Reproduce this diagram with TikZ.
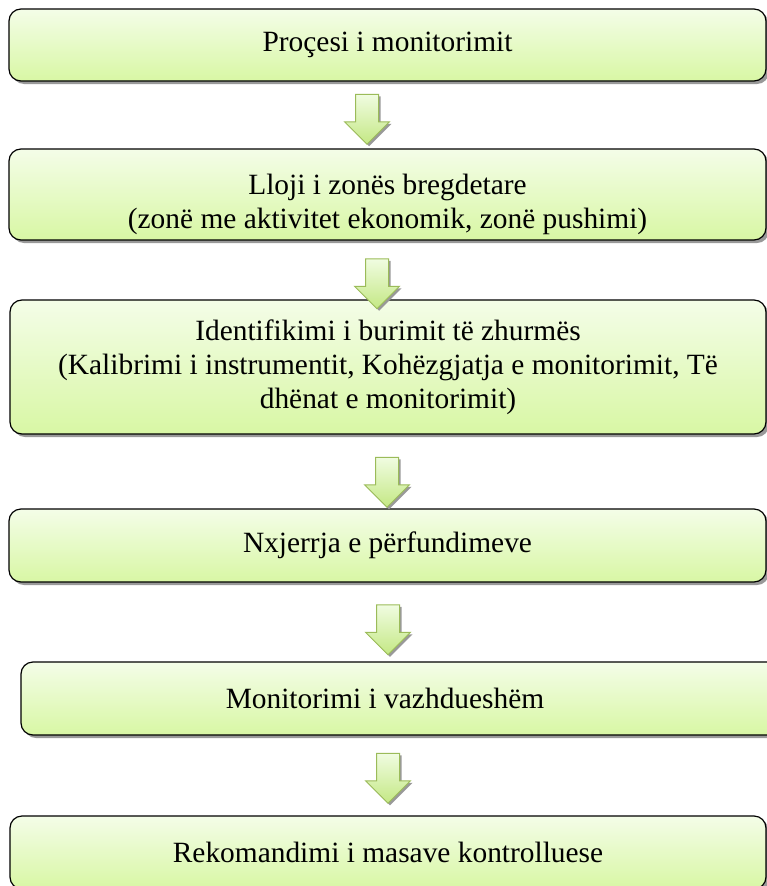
\documentclass[tikz,border=0pt]{standalone}
\usepackage{fontspec}
\setmainfont{Liberation Serif}
\usetikzlibrary{shapes.arrows,shadows}

\definecolor{boxtop}{RGB}{244,253,232}
\definecolor{boxbot}{RGB}{216,247,164}
\definecolor{arrtop}{RGB}{240,252,225}
\definecolor{arrbot}{RGB}{196,232,132}
\definecolor{arrline}{RGB}{155,187,89}

\tikzset{
	stepbox/.style={draw=black,line width=1.2pt,rounded corners=12pt,top color=boxtop,bottom color=boxbot,
		drop shadow={shadow xshift=3pt,shadow yshift=-3pt,fill=black!40,opacity=1},
		minimum width=757pt,align=center,inner sep=0pt,font=\fontsize{29.4}{34}\selectfont},
	downarrow/.style={single arrow,shape border rotate=270,draw=arrline,line width=1pt,
		top color=arrtop,bottom color=arrbot,minimum height=50pt,
		single arrow head extend=11pt,single arrow head indent=0pt,inner sep=11pt,
		drop shadow={shadow xshift=2pt,shadow yshift=-2pt,fill=black!40,opacity=1}}
}

\begin{document}
\begin{tikzpicture}[x=1pt,y=-1pt]
		\useasboundingbox (0,0) rectangle (767,886);
		\clip (0,0) rectangle (767,886);
		% boxes
		\node[stepbox,minimum height=72pt] (proc) at (387.5,45) {Proçesi i monitorimit};
		\node[stepbox,minimum height=91pt] (zona) at (387.5,194.5) {\rule{0pt}{40pt}Lloji i zonës bregdetare\\(zonë me aktivitet ekonomik, zonë pushimi)};
		\node[stepbox,minimum height=134pt,minimum width=756pt] (burim) at (388,367) {Identifikimi i burimit të zhurmës\\(Kalibrimi i instrumentit, Kohëzgjatja e monitorimit, Të\\dhënat e monitorimit)};
		\node[stepbox,minimum height=73pt] (perf) at (387.5,545.5) {Nxjerrja e përfundimeve};
		\node[stepbox,minimum height=73pt,minimum width=769pt] (vazhd) at (405.5,698.5) {};
		\node[font=\fontsize{29.4}{34}\selectfont] (vazhdtxt) at (vazhd.center-|385,0) {Monitorimi i vazhdueshëm};
		\node[stepbox,minimum height=73pt,minimum width=756pt] (masa) at (388,852.5) {Rekomandimi i masave kontrolluese};
		% arrows between the boxes
		\node[downarrow] (a1) at (367,113.5) {};
		\node[downarrow] (a2) at (377,278) {};
		\node[downarrow] (a3) at (387,476.5) {};
		\node[downarrow] (a4) at (388,624) {};
		\node[downarrow] (a5) at (388,772.5) {};
	\end{tikzpicture}
\end{document}
